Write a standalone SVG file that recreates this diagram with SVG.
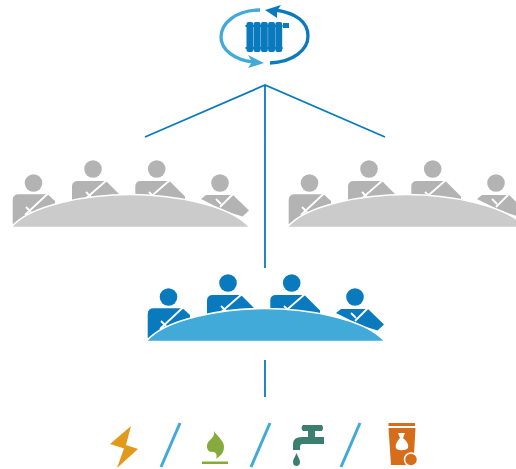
<svg xmlns="http://www.w3.org/2000/svg" width="516" height="469" viewBox="0 0 516 469">
<style>
.cut{fill:none;stroke:#fff;stroke-width:1.8}
.conn{fill:none;stroke:#0a7abf;stroke-width:1.8}
.slash{fill:none;stroke:#41aad9;stroke-width:3}
.top{stroke:#fff;stroke-width:1.6}
</style>
<defs>
<g id="people" fill="currentColor">
<circle cx="168.500" cy="297" r="8.800"/>
<path d="M147.700,338V314Q147.700,308.300 154,308.300H182.600L190,315L190,335Z"/>
<path class="cut" d="M183.500,307L160,329M161,321L166,326"/>
<circle cx="228" cy="283" r="8.800"/>
<path d="M207,316V300.500Q207,295 213,295H241L254.500,308.500L254,316Z"/>
<path class="cut" d="M242,294L219,314M221,306L226,311"/>
<circle cx="291.700" cy="283" r="8.800"/>
<path d="M270.300,316V300.500Q270.300,295 276,295H304.500L320,310.500L320,316Z"/>
<path class="cut" d="M305,294L282,314M284,306L289,311"/>
<circle cx="355" cy="297" r="8.800"/>
<path d="M336,313L341,309H367L368,309L384,324.500L377.500,330.500L360,325Z"/>
<path class="cut" d="M368,308L355,321M351,313L356,318"/>
</g>
<path id="table" class="top" d="M146,341.500C165,318 225,308.500 265,308.500C305,308.500 365,318 385,341.500Z"/>
</defs>
<g id="connectors">
<path class="conn" d="M145,137L265,85L385,137M265,85V268M265,360V397"/>
<path class="slash" d="M180,423L161,467M270,423L251,467M360,423L341,467"/>
</g>
<g id="cycle-icon">
<path d="M260,10C235,10 221,24 221,37C221,50 235,60 253,62" fill="none" stroke="#41aad9" stroke-width="3.300"/>
<path d="M248,55L264,63L248,68L252,62Z" fill="#41aad9"/>
<path d="M270,63C293,62 308,50 308,36C308,22 296,13 275,10" fill="none" stroke="#0a7abf" stroke-width="3.300"/>
<path d="M265,10L281,5L277,11L277,18Z" fill="#0a7abf"/>
<g fill="#0a7abf">
<rect x="246.500" y="22" width="6.900" height="30" rx="2"/>
<rect x="253.700" y="22" width="6.900" height="30" rx="2"/>
<rect x="260.900" y="22" width="6.900" height="30" rx="2"/>
<rect x="268.100" y="22" width="6.900" height="30" rx="2"/>
<rect x="275.300" y="22" width="6.900" height="30" rx="2"/>
<rect x="245.500" y="25" width="37" height="2"/>
<rect x="245.500" y="47" width="37" height="2"/>
<rect x="283" y="23" width="6" height="5"/>
</g>
</g>
<g id="left-table" color="#b3b3b3" transform="translate(-135 -114)">
<use href="#people"/><use href="#table" fill="#cbcbcb"/>
</g>
<g id="right-table" color="#b3b3b3" transform="translate(141 -114)">
<use href="#people"/><use href="#table" fill="#cbcbcb"/>
</g>
<g id="center-table" color="#0a7abf">
<use href="#people"/><use href="#table" fill="#41aad9"/>
</g>
<g id="electricity"><path fill="#e29a1c" d="M131,426L110,444L124,448.500L117,468L138,449L126,445Z"/></g>
<g id="gas">
<path fill="#85ab3c" d="M214,431C218,437 224,441 224,447C224,453 220,456 216,459C218,454 215,451 211,452C206,451 206,444 209,441C212,438 215,436 214,431Z"/>
<rect x="202" y="461.500" width="26" height="2.500" fill="#85ab3c"/>
</g>
<g id="water" fill="#3a7f6f">
<path d="M303,425H322Q324,428 322,431H315V437H324V444H303Q300,444 300,447V450H293V444Q293,437 302,437H308V431H303Q300,428 303,425Z"/>
<path d="M296.500,453C298,457 300,459 300,462C300,465 298,466 296.500,466C295,466 293,465 293,462C293,459 295,457 296.500,453Z"/>
</g>
<g id="waste">
<rect x="388.500" y="423" width="26.500" height="3" fill="#d56d1a"/>
<path fill="#d56d1a" d="M388.500,428H415.500L414,454H408L406,462L409,465H391Z"/>
<circle cx="411" cy="459.500" r="6.500" fill="#d56d1a" stroke="#fff" stroke-width="1.500"/>
<path fill="#fff" d="M398,433H405L403,438C407,441 409,445 408,448C406,451 397,451 396,448C395,445 397,441 400,438Z"/>
</g>
</svg>
